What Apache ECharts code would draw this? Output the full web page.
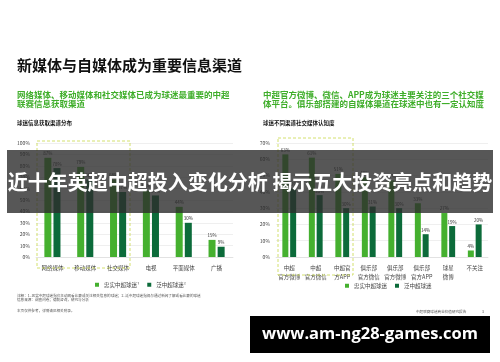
<!DOCTYPE html>
<html lang="zh">
<head>
  <meta charset="UTF-8">
  <title>新媒体与自媒体成为重要信息渠道</title>
  <style>
    html, body { margin: 0; padding: 0; background: #fff; }
    #chart { width: 500px; height: 362px; }
  </style>
</head>
<body>
  <div id="chart"></div>
  <script src="https://cdn.jsdelivr.net/npm/echarts@6/dist/echarts.min.js"></script>
  <script>
    // 左图：球迷信息获取渠道分布
    var leftCats = ['网络媒体', '移动媒体', '社交媒体', '电视', '平面媒体', '广播']
    var leftLoyal = [87, 79, 68, 58, 44, 15]
    var leftCasual = [78, 68, 57, 54, 30, 9]
    var leftTicks = [0, 100, 10]

    // 右图：球迷不同渠道社交媒体认知度
    var rightCats = ['中超\n官方微博', '中超\n官方微信', '中超官\n方APP', '俱乐部\n官方微信', '俱乐部\n官方微博', '俱乐部\n官方APP', '球星\n微博', '不关注']
    var rightLoyal = [63, 61, 51, 49, 47, 33, 27, 4]
    var rightCasual = [42, 38, 30, 31, 30, 14, 19, 20]
    var rightTicks = [0, 70, 10]

    var LIGHT = '#45b02f'
    var DARK = '#0c6b3a'
    var FONT = '"Noto Sans CJK SC", "Noto Sans", sans-serif'

    const chart = echarts.init(document.querySelector('#chart'))

    function yAxis(idx, t) {
      return {
        gridIndex: idx, type: 'value', min: t[0], max: t[1], interval: t[2],
        axisLabel: { formatter: '{value}%', fontSize: 5, color: '#444', margin: 6, fontFamily: FONT },
        splitLine: { lineStyle: { color: '#e4e4e4', width: 0.6 } },
        axisLine: { show: false }, axisTick: { show: false }
      }
    }
    function xAxis(idx, cats) {
      return {
        gridIndex: idx, type: 'category', data: cats,
        axisLabel: { fontSize: 5.5, color: '#444', margin: 6, lineHeight: 9, fontFamily: FONT, interval: 0 },
        axisLine: { lineStyle: { color: '#d8d8d8', width: 0.6 } },
        axisTick: { show: false }
      }
    }
    function bar(name, idx, data, color, w) {
      return {
        name: name, type: 'bar', xAxisIndex: idx, yAxisIndex: idx, data: data,
        barWidth: w, barGap: '30%', itemStyle: { color: color },
        label: { show: true, position: 'top', distance: 2, formatter: '{c}%', fontSize: 4.5, color: '#333', fontFamily: FONT },
        silent: true
      }
    }
    function txt(x, y, s, size, color, weight, z) {
      return {
        type: 'text', left: x, top: y, z: z || 1,
        style: { text: s, fontSize: size, fill: color, fontWeight: weight || 'normal', fontFamily: FONT }
      }
    }

    const option = {
      animation: false,
      textStyle: { fontFamily: FONT },
      grid: [
        { left: 36, right: 267, top: 143, bottom: 105 },
        { left: 276, right: 12, top: 143, bottom: 105 }
      ],
      xAxis: [xAxis(0, leftCats), xAxis(1, rightCats)],
      yAxis: [yAxis(0, leftTicks), yAxis(1, rightTicks)],
      legend: [
        {
          data: ['忠实中超球迷¹', '泛中超球迷²'], left: 90, top: 277,
          icon: 'rect', itemWidth: 4, itemHeight: 4, itemGap: 8,
          textStyle: { fontSize: 5.5, color: '#444' }
        },
        {
          data: ['忠实中超球迷', '泛中超球迷'], left: 340, top: 278,
          icon: 'rect', itemWidth: 4, itemHeight: 4, itemGap: 8,
          textStyle: { fontSize: 5.5, color: '#444' }
        }
      ],
      series: [
        bar('忠实中超球迷¹', 0, leftLoyal, LIGHT, 7),
        bar('泛中超球迷²', 0, leftCasual, DARK, 7),
        bar('忠实中超球迷', 1, rightLoyal, LIGHT, 6),
        bar('泛中超球迷', 1, rightCasual, DARK, 6)
      ],
      graphic: [
        txt(17, 58, '新媒体与自媒体成为重要信息渠道', 15, '#111', 'bold'),
        txt(17, 91, '网络媒体、移动媒体和社交媒体已成为球迷最重要的中超\n联赛信息获取渠道', 8.5, '#3fae2a', 'bold'),
        txt(17, 120, '球迷信息获取渠道分布', 5.5, '#111', 'bold'),
        txt(263, 91, '中超官方微博、微信、APP成为球迷主要关注的三个社交媒\n体平台。俱乐部搭建的自媒体渠道在球迷中也有一定认知度', 8.5, '#3fae2a', 'bold'),
        txt(263, 120, '球迷不同渠道社交媒体认知度', 5.5, '#111', 'bold'),
        txt(17, 294, '注释：1. 忠实中超球迷指会主动观看比赛或关注相关信息的球迷；2. 泛中超球迷指偶尔通过新闻了解或看比赛的球迷\n信息来源：调查问卷；德勤咨询，研究与分析', 3.6, '#555'),
        txt(17, 309, '本页仅供参考，详情请见相关附录。', 3.6, '#555'),
        txt(416, 310, '中超联赛球迷商业价值研究报告', 3.6, '#555'),
        txt(482, 310, '3', 3.6, '#555'),
        {
          type: 'rect', shape: { x: 37, y: 141, width: 93, height: 127 }, z: 2,
          style: { fill: 'none', stroke: '#c8d84a', lineWidth: 0.8, lineDash: [3, 2] }
        },
        {
          type: 'rect', shape: { x: 278, y: 138, width: 75, height: 137 }, z: 2,
          style: { fill: 'none', stroke: '#c8d84a', lineWidth: 0.8, lineDash: [3, 2] }
        },
        {
          type: 'rect', shape: { x: 7, y: 150, width: 486, height: 63 }, z: 100,
          style: { fill: 'rgba(45,45,45,0.8)' }
        },
        {
          type: 'text', x: 250, y: 182, z: 101,
          style: {
            text: '近十年英超中超投入变化分析 揭示五大投资亮点和趋势', fontSize: 20, fontWeight: 'bold',
            fill: '#fff', align: 'center', verticalAlign: 'middle', fontFamily: FONT
          }
        },
        {
          type: 'rect', shape: { x: 250, y: 316, width: 240, height: 37 }, z: 100,
          style: { fill: '#000' }
        },
        {
          type: 'text', x: 370, y: 334.5, z: 101,
          style: {
            text: 'www.am-ng28-games.com', fontSize: 16.5, fontWeight: 'bold',
            fill: '#fff', align: 'center', verticalAlign: 'middle', fontFamily: '"Open Sans", "DejaVu Sans", sans-serif'
          }
        }
      ]
    }
    chart.setOption(option)
  </script>
</body>
</html>
